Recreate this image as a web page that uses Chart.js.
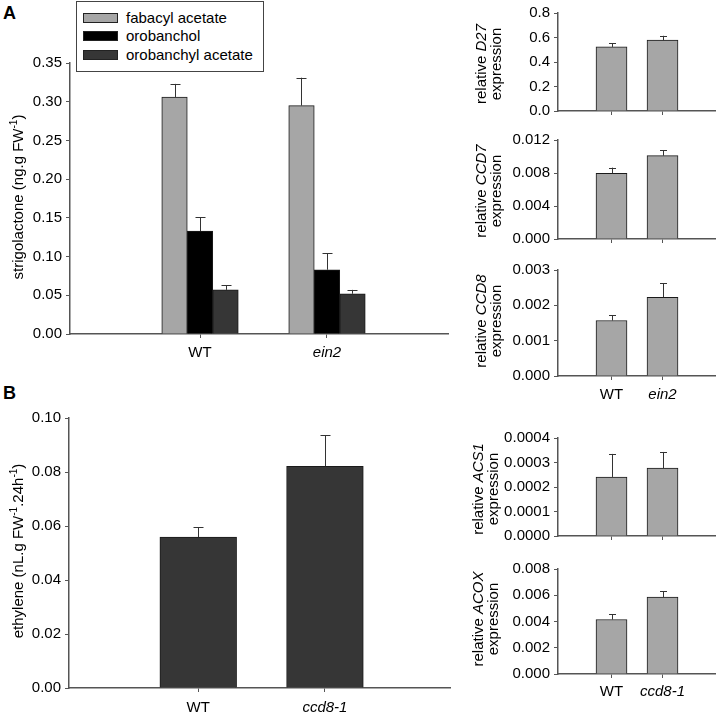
<!DOCTYPE html>
<html lang="en">
<head>
    <meta charset="utf-8" />
    <title>Strigolactone and ethylene</title>
    <script src="https://cdn.jsdelivr.net/npm/chart.js"></script>
    <style>
        html, body {
            margin: 0;
            padding: 0;
            background: #fff;
            overflow: hidden;
        }
        body {
            position: relative;
            width: 717px;
            height: 716px;
            font-family: "Liberation Sans", Arial, sans-serif;
            font-size: 15px;
            color: #000;
        }
        canvas {
            position: absolute;
        }
        .panel-letter {
            position: absolute;
            font-size: 18px;
            font-weight: bold;
            line-height: 18px;
        }
        .ytitle {
            position: absolute;
            white-space: nowrap;
            text-align: center;
            line-height: 17px;
            transform: translate(-50%, -50%) rotate(-90deg);
        }
        .ytitle.two {
            line-height: 15px;
        }
        .ytitle sup {
            font-size: 10px;
            line-height: 0;
        }
        #legendA {
            position: absolute;
            left: 76px;
            top: 1px;
            width: 186px;
            height: 69px;
            border: 1px solid #444;
            background: #fff;
        }
        #legendA .item {
            position: absolute;
            left: 6px;
            height: 18px;
            line-height: 18px;
            white-space: nowrap;
        }
        #legendA .swatch {
            position: absolute;
            left: 0;
            top: 4px;
            width: 33px;
            height: 8px;
            border: 1px solid #222;
        }
        #legendA .text {
            position: absolute;
            left: 43px;
            top: 0;
        }
    </style>
</head>
<body>
    <div class="panel-letter" style="left:3px; top:4px;">A</div>
    <div class="panel-letter" style="left:3px; top:384px;">B</div>

    <canvas id="chartA" width="440" height="324" style="left:20px; top:50px;"></canvas>
    <canvas id="chartD27" width="219" height="124" style="left:498px; top:0px;"></canvas>
    <canvas id="chartCCD7" width="219" height="125" style="left:498px; top:127px;"></canvas>
    <canvas id="chartCCD8" width="219" height="149" style="left:498px; top:257px;"></canvas>
    <canvas id="chartB" width="440" height="311" style="left:19px; top:405px;"></canvas>
    <canvas id="chartACS1" width="219" height="124" style="left:498px; top:425px;"></canvas>
    <canvas id="chartACOX" width="219" height="148" style="left:498px; top:556px;"></canvas>

    <div id="legendA"></div>

    <div class="ytitle" style="left:17px; top:197px;">strigolactone (ng.g FW<sup>-1</sup>)</div>
    <div class="ytitle" style="left:17px; top:551px;">ethylene (nL.g FW<sup>-1</sup>.24h<sup>-1</sup>)</div>
    <div class="ytitle two" style="left:487.5px; top:64px;">relative <i>D27</i><br>expression</div>
    <div class="ytitle two" style="left:487.5px; top:191px;">relative <i>CCD7</i><br>expression</div>
    <div class="ytitle two" style="left:487.5px; top:321px;">relative <i>CCD8</i><br>expression</div>
    <div class="ytitle two" style="left:485px; top:489px;">relative <i>ACS1</i><br>expression</div>
    <div class="ytitle two" style="left:485px; top:619px;">relative <i>ACOX</i><br>expression</div>

    <script>
        // ---- panel A: strigolactones in WT and ein2 ----
        var strigGenotypes = ['WT', 'ein2'];
        var strigSeries = ['fabacyl acetate', 'orobanchol', 'orobanchyl acetate'];
        var strigColors = ['#a6a6a6', '#000000', '#363636'];
        var fabacylAcetate = [0.306, 0.295];
        var fabacylAcetateErr = [0.017, 0.036];
        var orobanchol = [0.133, 0.083];
        var orobancholErr = [0.018, 0.021];
        var orobanchylAcetate = [0.057, 0.052];
        var orobanchylAcetateErr = [0.006, 0.005];
        var strigTicks = [0, 0.05, 0.10, 0.15, 0.20, 0.25, 0.30, 0.35];

        var d27 = [0.523, 0.578];
        var d27Err = [0.032, 0.036];
        var d27Ticks = [0, 0.2, 0.4, 0.6, 0.8];

        var ccd7 = [0.00795, 0.0101];
        var ccd7Err = [0.0007, 0.00066];
        var ccd7Ticks = [0, 0.004, 0.008, 0.012];

        var ccd8 = [0.00157, 0.00223];
        var ccd8Err = [0.00015, 0.0004];
        var ccd8Ticks = [0, 0.001, 0.002, 0.003];

        // ---- panel B: ethylene in WT and ccd8-1 ----
        var ethGenotypes = ['WT', 'ccd8-1'];
        var ethylene = [0.0559, 0.0821];
        var ethyleneErr = [0.0037, 0.0116];
        var ethTicks = [0, 0.02, 0.04, 0.06, 0.08, 0.10];

        var acs1 = [0.000241, 0.000277];
        var acs1Err = [0.000094, 0.000066];
        var acs1Ticks = [0, 0.0001, 0.0002, 0.0003, 0.0004];

        var acox = [0.00415, 0.00586];
        var acoxErr = [0.00039, 0.00044];
        var acoxTicks = [0, 0.002, 0.004, 0.006, 0.008];

        var italicGenotype = { 'WT': false, 'ein2': true, 'ccd8-1': true };
        var axisColor = '#555555';
        var barBorder = '#1a1a1a';
        var lightBar = '#a6a6a6';
        var darkBar = '#363636';

        Chart.defaults.font.family = '"Liberation Sans", Arial, sans-serif';
        Chart.defaults.font.size = 15;
        Chart.defaults.color = '#000';

        // upper error bar with a cap, drawn from the y scale
        var errorBars = {
            id: 'errorBars',
            afterDatasetsDraw: function (chart, args, opts) {
                var ctx = chart.ctx;
                var yScale = chart.scales.y;
                chart.data.datasets.forEach(function (ds, di) {
                    var meta = chart.getDatasetMeta(di);
                    meta.data.forEach(function (bar, i) {
                        var top = yScale.getPixelForValue(ds.data[i].y + ds.errors[i]);
                        var x = Math.round(bar.x) + 0.5;
                        ctx.save();
                        ctx.strokeStyle = opts.color;
                        ctx.lineWidth = 1;
                        ctx.beginPath();
                        ctx.moveTo(x, bar.y);
                        ctx.lineTo(x, top);
                        ctx.moveTo(x - opts.cap / 2, Math.round(top) + 0.5);
                        ctx.lineTo(x + opts.cap / 2, Math.round(top) + 0.5);
                        ctx.stroke();
                        ctx.restore();
                    });
                });
            }
        };

        function barPanel(id, p) {
            return new Chart(document.getElementById(id), {
                type: 'bar',
                data: {
                    datasets: p.series.map(function (s) {
                        return {
                            label: s.label,
                            data: s.values.map(function (v, i) { return { x: i + 1, y: v }; }),
                            errors: s.errors,
                            backgroundColor: s.color,
                            borderColor: barBorder,
                            borderWidth: 1,
                            barThickness: p.barThickness
                        };
                    })
                },
                options: {
                    responsive: false,
                    animation: false,
                    layout: { padding: { top: p.padTop, right: p.padRight, left: 0, bottom: 0 } },
                    plugins: {
                        legend: { display: false },
                        tooltip: { enabled: false },
                        errorBars: { cap: p.cap, color: '#333' }
                    },
                    scales: {
                        x: {
                            type: 'linear',
                            offset: false,
                            min: p.xMin,
                            max: p.xMax,
                            afterBuildTicks: function (s) {
                                s.ticks = p.labels.map(function (l, i) { return { value: i + 1 }; });
                            },
                            afterFit: function (s) { s.height = p.xHeight; },
                            ticks: {
                                display: p.showLabels,
                                padding: p.labelPad,
                                maxRotation: 0,
                                autoSkip: false,
                                font: function (c) {
                                    return { style: italicGenotype[p.labels[c.index]] ? 'italic' : 'normal' };
                                },
                                callback: function (v, i) { return p.labels[i]; }
                            },
                            grid: { offset: false, drawOnChartArea: false, tickLength: 4, color: axisColor },
                            border: { color: axisColor, width: 1.5 }
                        },
                        y: {
                            min: 0,
                            max: p.ticks[p.ticks.length - 1],
                            afterBuildTicks: function (s) {
                                s.ticks = p.ticks.map(function (t) { return { value: t }; });
                            },
                            afterFit: function (s) { s.width = p.yWidth; },
                            ticks: {
                                padding: 4,
                                callback: function (v) { return v.toFixed(p.decimals); }
                            },
                            grid: { drawOnChartArea: false, tickLength: 4, color: axisColor },
                            border: { color: axisColor, width: 1.5 }
                        }
                    }
                },
                plugins: [errorBars]
            });
        }

        // big panels: two groups at 1 and 2 on a linear x axis
        var bigA = { xMin: -0.024, xMax: 2.953, yWidth: 50, padTop: 10, padRight: 12, cap: 10 };
        var small = { xMin: -0.049, xMax: 3.029, yWidth: 60, padTop: 9, padRight: 2, cap: 7, barThickness: 31 };

        function merge(a, b) { return Object.assign({}, a, b); }

        barPanel('chartA', merge(bigA, {
            labels: strigGenotypes, ticks: strigTicks, decimals: 2,
            barThickness: 25.5, xHeight: 40, showLabels: true, labelPad: 6,
            series: [
                { label: strigSeries[0], values: fabacylAcetate, errors: fabacylAcetateErr, color: strigColors[0] },
                { label: strigSeries[1], values: orobanchol, errors: orobancholErr, color: strigColors[1] },
                { label: strigSeries[2], values: orobanchylAcetate, errors: orobanchylAcetateErr, color: strigColors[2] }
            ]
        }));

        barPanel('chartD27', merge(small, {
            labels: strigGenotypes, ticks: d27Ticks, decimals: 1, xHeight: 6, showLabels: false, labelPad: 0,
            series: [{ label: 'D27', values: d27, errors: d27Err, color: lightBar }]
        }));
        barPanel('chartCCD7', merge(small, {
            labels: strigGenotypes, ticks: ccd7Ticks, decimals: 3, xHeight: 6, showLabels: false, labelPad: 0,
            series: [{ label: 'CCD7', values: ccd7, errors: ccd7Err, color: lightBar }]
        }));
        barPanel('chartCCD8', merge(small, {
            labels: strigGenotypes, ticks: ccd8Ticks, decimals: 3, xHeight: 30, showLabels: true, labelPad: 6,
            series: [{ label: 'CCD8', values: ccd8, errors: ccd8Err, color: lightBar }]
        }));

        barPanel('chartB', merge(bigA, {
            xMin: -0.02, xMax: 2.987, padRight: 9,
            labels: ethGenotypes, ticks: ethTicks, decimals: 2,
            barThickness: 76.7, xHeight: 28, showLabels: true, labelPad: 7,
            series: [{ label: 'ethylene', values: ethylene, errors: ethyleneErr, color: darkBar }]
        }));

        barPanel('chartACS1', merge(small, {
            labels: ethGenotypes, ticks: acs1Ticks, decimals: 4, xHeight: 6, showLabels: false, labelPad: 0,
            series: [{ label: 'ACS1', values: acs1, errors: acs1Err, color: lightBar }]
        }));
        barPanel('chartACOX', merge(small, {
            labels: ethGenotypes, ticks: acoxTicks, decimals: 3, xHeight: 30, showLabels: true, labelPad: 5,
            series: [{ label: 'ACOX', values: acox, errors: acoxErr, color: lightBar }]
        }));

        // legend for panel A, built from the series names and colours
        var legend = document.getElementById('legendA');
        strigSeries.forEach(function (name, i) {
            var item = document.createElement('div');
            item.className = 'item';
            item.style.top = (6.5 + i * 18.5) + 'px';
            item.innerHTML = '<span class="swatch" style="background:' + strigColors[i] + '"></span>' +
                '<span class="text">' + name + '</span>';
            legend.appendChild(item);
        });
    </script>
</body>
</html>
